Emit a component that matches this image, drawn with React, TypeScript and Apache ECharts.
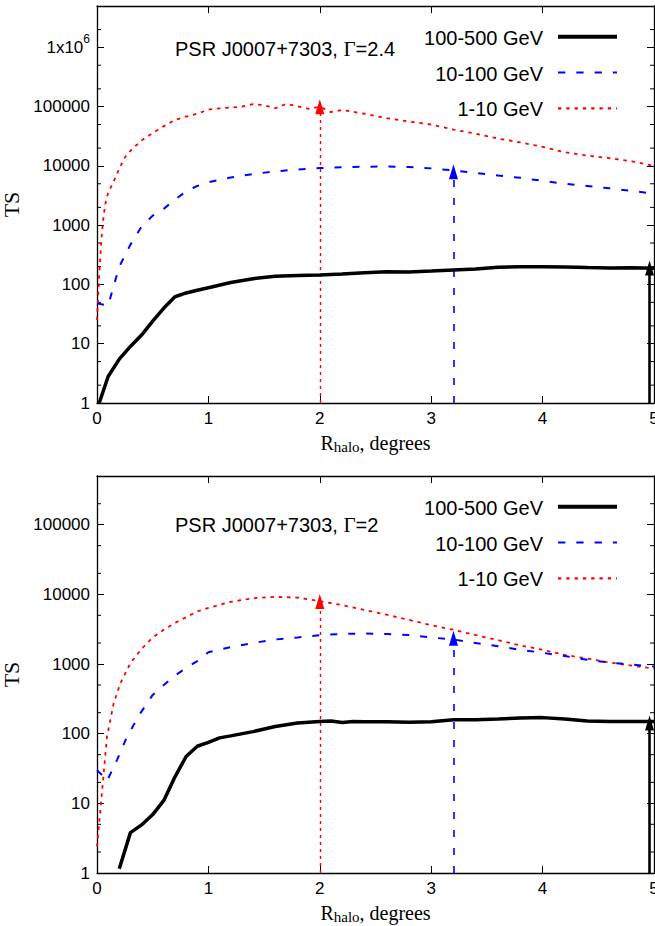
import React, { useEffect, useRef } from 'react';
import * as echarts from 'echarts';

// ---------- data ----------
const X_MIN = 0;
const X_MAX = 5;
const SERIES_NAMES = ['100-500 GeV', '10-100 GeV', '1-10 GeV'];
const PANEL_LABELS = ['2.4', '2'];

// Top panel (Γ = 2.4)
const topHigh: [number, number][] = [
  [0.02, 1], [0.1, 2.8], [0.2, 5.5], [0.3, 9], [0.4, 14], [0.5, 24], [0.6, 40], [0.7, 62],
  [0.8, 72], [0.9, 80], [1.0, 88], [1.2, 108], [1.4, 125], [1.6, 138], [1.8, 142], [2.0, 145],
  [2.2, 150], [2.4, 158], [2.6, 164], [2.8, 163], [3.0, 168], [3.2, 175], [3.4, 182], [3.6, 195],
  [3.8, 200], [4.0, 200], [4.2, 198], [4.4, 193], [4.6, 190], [4.8, 192], [5.0, 188],
];
const topMid: [number, number][] = [
  [0, 48], [0.05, 46], [0.1, 44], [0.15, 95], [0.2, 200], [0.3, 470], [0.4, 950], [0.5, 1450],
  [0.6, 1900], [0.7, 2700], [0.8, 3700], [0.9, 4600], [1.0, 5300], [1.2, 6400], [1.4, 7300],
  [1.6, 8100], [1.8, 8700], [2.0, 9200], [2.2, 9500], [2.4, 9700], [2.6, 9800], [2.8, 9600],
  [3.0, 9100], [3.2, 8400], [3.4, 7600], [3.6, 6900], [3.8, 6300], [4.0, 5600], [4.2, 5000],
  [4.4, 4600], [4.6, 4200], [4.8, 3800], [5.0, 3400],
];
const topLow: [number, number][] = [
  [0, 25], [0.02, 150], [0.04, 600], [0.06, 1500], [0.08, 2600], [0.1, 3500], [0.15, 5500],
  [0.2, 9000], [0.25, 14000], [0.3, 18000], [0.4, 27000], [0.5, 36000], [0.6, 47000],
  [0.7, 60000], [0.8, 68000], [0.9, 76000], [1.0, 89000], [1.1, 94000], [1.2, 97000],
  [1.3, 100000], [1.4, 110000], [1.5, 106000], [1.6, 94000], [1.7, 112000], [1.8, 102000],
  [1.9, 92000], [2.0, 100000], [2.1, 81000], [2.2, 88000], [2.3, 82000], [2.4, 76000],
  [2.6, 64000], [2.8, 56000], [3.0, 50000], [3.2, 41000], [3.4, 35000], [3.6, 29000],
  [3.8, 25000], [4.0, 21000], [4.2, 17000], [4.4, 15000], [4.6, 13500], [4.8, 12000], [5.0, 10000],
];

// Bottom panel (Γ = 2)
const botHigh: [number, number][] = [
  [0.2, 1.15], [0.3, 3.8], [0.4, 4.9], [0.5, 6.9], [0.6, 11], [0.7, 24], [0.8, 47], [0.9, 66],
  [1.0, 75], [1.1, 87], [1.2, 93], [1.4, 107], [1.6, 127], [1.8, 142], [2.0, 150], [2.1, 152],
  [2.2, 145], [2.3, 150], [2.4, 148], [2.6, 148], [2.8, 146], [3.0, 148], [3.2, 158], [3.4, 158],
  [3.6, 162], [3.8, 168], [4.0, 170], [4.2, 162], [4.4, 152], [4.6, 150], [4.8, 150], [5.0, 150],
];
const botMid: [number, number][] = [
  [0, 30], [0.04, 26], [0.09, 21], [0.18, 42], [0.27, 91], [0.39, 197], [0.5, 360], [0.6, 500],
  [0.7, 680], [0.8, 880], [0.9, 1100], [1.0, 1480], [1.2, 1750], [1.4, 2000], [1.6, 2250],
  [1.8, 2400], [2.0, 2600], [2.2, 2700], [2.4, 2750], [2.6, 2700], [2.8, 2600], [3.0, 2400],
  [3.2, 2250], [3.4, 2000], [3.6, 1800], [3.8, 1600], [4.0, 1450], [4.2, 1300], [4.4, 1150],
  [4.6, 1050], [4.8, 980], [5.0, 920],
];
const botLow: [number, number][] = [
  [0, 2.4], [0.03, 8], [0.06, 27], [0.09, 91], [0.15, 275], [0.21, 530], [0.3, 1030], [0.4, 1650],
  [0.5, 2400], [0.6, 3100], [0.7, 3900], [0.8, 4700], [0.9, 5700], [1.0, 6400], [1.2, 7800],
  [1.4, 8800], [1.6, 9200], [1.8, 9000], [2.0, 8000], [2.2, 7000], [2.4, 6000], [2.6, 5100],
  [2.8, 4300], [3.0, 3600], [3.2, 3100], [3.4, 2600], [3.6, 2200], [3.8, 1850], [4.0, 1600],
  [4.2, 1350], [4.4, 1200], [4.6, 1050], [4.8, 950], [5.0, 860],
];

// Arrows: x position and TS value at tip (order: high, mid, low band)
const arrowX = [4.96, 3.2, 2];
const arrowTopY = [190, 8000, 100000];
const arrowBotY = [142, 2350, 7900];

// Y axis ranges (log)
const Y_MIN = 1;
const Y_MAX_TOP = 5e6;
const Y_MAX_BOT = 5e5;
const MINOR_TOP = [2, 5, 20, 50, 200, 500, 2e3, 5e3, 2e4, 5e4, 2e5, 5e5, 2e6];
const MINOR_BOT = [2, 5, 20, 50, 200, 500, 2e3, 5e3, 2e4, 5e4, 2e5];

// ---------- styles ----------
const SANS = '"Liberation Sans", Arial, Helvetica, sans-serif';
const SERIF = '"Liberation Serif", "Times New Roman", serif';
const COLORS = ['#000000', '#0000ff', '#ff0000'];
const WIDTHS = [3.5, 2, 1.8];
const DASHES: any[] = ['solid', [7, 11], [3.5, 4.8]];
const ARROW_WIDTHS = [2.6, 1.6, 1.4];
const ARROW_DASH: any[] = ['solid', [7, 11], [3, 4]];

const GRIDS = [
  { left: 97, top: 6, width: 557, height: 397 },
  { left: 97, top: 476, width: 557, height: 397 },
];

function yLabel(v: number): string {
  const l = Math.log10(v);
  const e = Math.round(l);
  if (Math.abs(l - e) > 1e-6) return '';
  if (e >= 6) return '{b|1x10}{s|' + e + '}';
  return '{b|' + String(Math.round(v)) + '}';
}

export default function App() {
  const ref = useRef<HTMLDivElement>(null);

  useEffect(() => {
    if (!ref.current) return;
    const chart = echarts.init(ref.current, undefined, { renderer: 'svg' });

    const axisLine = { show: true, onZero: false, lineStyle: { color: '#000', width: 1.3 } };
    const xAxes: any[] = [];
    const yAxes: any[] = [];
    const series: any[] = [];
    const graphic: any[] = [];

    const panels = [
      { data: [topHigh, topMid, topLow], ymax: Y_MAX_TOP, minor: MINOR_TOP, arrows: arrowTopY },
      { data: [botHigh, botMid, botLow], ymax: Y_MAX_BOT, minor: MINOR_BOT, arrows: arrowBotY },
    ];

    panels.forEach((p, gi) => {
      const xi = xAxes.length;
      xAxes.push({
        type: 'value', gridIndex: gi, position: 'bottom', min: X_MIN, max: X_MAX, interval: 1,
        axisLine, splitLine: { show: false },
        axisTick: { show: true, inside: true, length: 7, lineStyle: { color: '#000', width: 1 } },
        axisLabel: { show: true, margin: 7, fontSize: 17, fontFamily: SANS, color: '#000' },
        name: '{r|R}{s|halo}{r|, degrees}', nameLocation: 'middle', nameGap: 28,
        nameTextStyle: {
          rich: {
            r: { fontFamily: SERIF, fontSize: 20, color: '#000' },
            s: { fontFamily: SERIF, fontSize: 15, color: '#000', padding: [8, 0, 0, 0] },
          },
        },
      });
      xAxes.push({
        type: 'value', gridIndex: gi, position: 'top', min: X_MIN, max: X_MAX, interval: 1,
        axisLine, splitLine: { show: false },
        axisTick: { show: true, inside: true, length: 7, lineStyle: { color: '#000', width: 1 } },
        axisLabel: { show: false },
      });
      const yi = yAxes.length;
      yAxes.push({
        type: 'log', logBase: 10, gridIndex: gi, position: 'left', min: Y_MIN, max: p.ymax,
        axisLine, splitLine: { show: false }, minorTick: { show: false },
        axisTick: { show: true, inside: true, length: 7, lineStyle: { color: '#000', width: 1 } },
        axisLabel: {
          show: true, margin: 7, showMaxLabel: false, formatter: yLabel,
          rich: {
            b: { fontSize: 17, fontFamily: SANS, color: '#000' },
            s: { fontSize: 12, fontFamily: SANS, color: '#000', padding: [0, 0, 16, 0] },
          },
        },
        name: 'TS', nameLocation: 'middle', nameGap: 68, nameRotate: 90,
        nameTextStyle: { fontFamily: SERIF, fontSize: 22, color: '#000' },
      });
      yAxes.push({
        type: 'log', logBase: 10, gridIndex: gi, position: 'right', min: Y_MIN, max: p.ymax,
        axisLine, splitLine: { show: false },
        axisTick: { show: true, inside: true, length: 7, lineStyle: { color: '#000', width: 1 } },
        axisLabel: { show: false },
      });

      // minor log ticks (2 and 5 of each decade) on both sides
      series.push({
        type: 'custom', xAxisIndex: xi, yAxisIndex: yi, silent: true, clip: false, z: 1,
        data: p.minor.map((v) => [X_MIN, v]),
        renderItem: (params: any, api: any) => {
          const y = api.coord([X_MIN, api.value(1)])[1];
          const cs = params.coordSys;
          return {
            type: 'group',
            children: [
              { type: 'line', shape: { x1: cs.x, y1: y, x2: cs.x + 4, y2: y }, style: { stroke: '#000', lineWidth: 1 } },
              { type: 'line', shape: { x1: cs.x + cs.width - 4, y1: y, x2: cs.x + cs.width, y2: y }, style: { stroke: '#000', lineWidth: 1 } },
            ],
          };
        },
      });

      // draw low band first so the solid black line stays on top
      [2, 1, 0].forEach((k) => {
        series.push({
          name: SERIES_NAMES[k], type: 'line', xAxisIndex: xi, yAxisIndex: yi,
          data: p.data[k], showSymbol: false, symbol: 'none', smooth: false, z: 3 + (2 - k),
          lineStyle: { color: COLORS[k], width: WIDTHS[k], type: DASHES[k], cap: 'butt' },
          itemStyle: { color: COLORS[k] },
          markLine: {
            silent: true, symbol: ['none', 'triangle'], symbolSize: [9, 15],
            label: { show: false }, emphasis: { disabled: true },
            itemStyle: { color: COLORS[k] },
            lineStyle: { color: COLORS[k], width: ARROW_WIDTHS[k], type: ARROW_DASH[k] },
            data: [[{ coord: [arrowX[k], Y_MIN] }, { coord: [arrowX[k], p.arrows[k]] }]],
          },
        });
      });

      // key and annotation
      const g = GRIDS[gi];
      const annY = gi === 0 ? 48.5 : 524.5;
      graphic.push({
        type: 'text', x: 175, y: annY,
        style: {
          text: '{a|PSR J0007+7303, }{g|Γ}{a|=' + PANEL_LABELS[gi] + '}',
          align: 'left', verticalAlign: 'middle',
          rich: {
            a: { fontFamily: SANS, fontSize: 20, fill: '#000' },
            g: { fontFamily: SERIF, fontSize: 21, fill: '#000' },
          },
        },
      });
      const rowY0 = g.top + 30.7;
      [0, 1, 2].forEach((k) => {
        const ry = rowY0 + k * 35.8;
        graphic.push({
          type: 'text', x: 543, y: ry + 1,
          style: { text: SERIES_NAMES[k], align: 'right', verticalAlign: 'middle', fontFamily: SANS, fontSize: 20, fill: '#000' },
        });
        graphic.push({
          type: 'line', shape: { x1: 558, y1: ry, x2: 617, y2: ry },
          style: {
            stroke: COLORS[k], lineWidth: k === 0 ? 4 : 2.2,
            lineDash: k === 0 ? null : k === 1 ? [7.3, 11] : [3.3, 5],
          },
        });
      });
    });

    chart.setOption({
      animation: false,
      backgroundColor: '#fff',
      legend: { show: false },
      grid: GRIDS.map((g) => ({ ...g, containLabel: false, outerBoundsMode: 'none' })),
      xAxis: xAxes,
      yAxis: yAxes,
      series,
      graphic,
    });

    return () => chart.dispose();
  }, []);

  return <div ref={ref} style={{ position: 'absolute', left: 0, top: 0, width: 655, height: 926 }} />;
}
